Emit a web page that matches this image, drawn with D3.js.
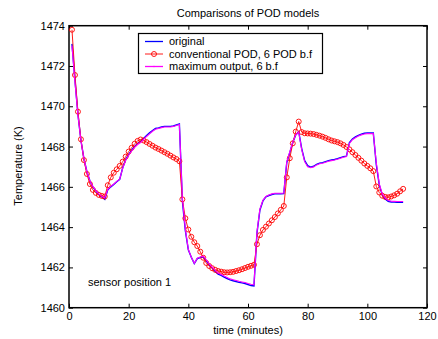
<!DOCTYPE html>
<html>
<head>
<meta charset="utf-8">
<script src="https://cdn.jsdelivr.net/npm/d3@7"></script>
<style>
  body { margin: 0; background: #fff; }
  text { font-family: "Liberation Sans", Arial, Helvetica, sans-serif; }
</style>
</head>
<body>
<div id="app"></div>
<script>
// time axis: one sample per minute
const minutes = d3.range(1, 113);

const original = [
  1473.1, 1471.3, 1469.6, 1468.3, 1467.4, 1466.75, 1466.3, 1466.0, 1465.8, 1465.62,
  1465.5, 1465.38, 1465.85, 1466.0, 1466.12, 1466.25, 1466.37, 1466.95, 1467.35, 1467.6,
  1467.82, 1468.0, 1468.15, 1468.25, 1468.4, 1468.55, 1468.68, 1468.8, 1468.9, 1468.93,
  1468.97, 1469.0, 1469.0, 1469.0, 1469.02, 1469.08, 1469.12, 1465.3, 1463.82, 1462.87,
  1462.5, 1462.19, 1462.44, 1462.49, 1462.53, 1462.34, 1462.13, 1461.97, 1461.8, 1461.67,
  1461.6, 1461.52, 1461.45, 1461.38, 1461.34, 1461.3, 1461.26, 1461.23, 1461.2, 1461.15,
  1461.1, 1461.08, 1463.7, 1464.85, 1465.3, 1465.5, 1465.57, 1465.62, 1465.65, 1465.65,
  1465.65, 1465.66, 1467.2, 1467.7, 1468.2, 1468.58, 1468.74, 1467.9, 1467.3, 1467.05,
  1466.98, 1467.02, 1467.12, 1467.18, 1467.2, 1467.25, 1467.3, 1467.33, 1467.36, 1467.4,
  1467.45, 1467.5, 1467.52, 1468.2, 1468.38, 1468.48, 1468.56, 1468.62, 1468.66, 1468.68,
  1468.68, 1468.68, 1467.1, 1466.1, 1465.6, 1465.4, 1465.28, 1465.25, 1465.24, 1465.23,
  1465.23, 1465.23
];

const maxOutput = [
  1473.0, 1471.2, 1469.55, 1468.3, 1467.4, 1466.75, 1466.3, 1466.02, 1465.82, 1465.65,
  1465.53, 1465.45, 1465.88, 1466.02, 1466.14, 1466.27, 1466.38, 1466.93, 1467.32, 1467.57,
  1467.78, 1467.96, 1468.1, 1468.2, 1468.35, 1468.5, 1468.63, 1468.76, 1468.86, 1468.9,
  1468.94, 1468.97, 1468.97, 1468.97, 1469.0, 1469.05, 1469.1, 1465.45, 1463.9, 1462.9,
  1462.5, 1462.2, 1462.46, 1462.52, 1462.56, 1462.38, 1462.17, 1462.01, 1461.85, 1461.72,
  1461.65, 1461.57, 1461.5, 1461.43, 1461.39, 1461.35, 1461.31, 1461.28, 1461.25, 1461.2,
  1461.16, 1461.13, 1463.75, 1464.9, 1465.33, 1465.52, 1465.6, 1465.65, 1465.68, 1465.68,
  1465.68, 1465.69, 1467.25, 1467.74, 1468.22, 1468.58, 1468.72, 1467.85, 1467.25, 1467.0,
  1466.95, 1466.99, 1467.09, 1467.15, 1467.17, 1467.22, 1467.27, 1467.3, 1467.33, 1467.37,
  1467.42, 1467.47, 1467.5, 1468.15, 1468.34, 1468.44, 1468.52, 1468.58, 1468.62, 1468.64,
  1468.64, 1468.64, 1467.2, 1466.15, 1465.65, 1465.45, 1465.32, 1465.29, 1465.28, 1465.27,
  1465.27, 1465.27
];

const conventional = [
  1473.8, 1471.55, 1469.73, 1468.36, 1467.33, 1466.64, 1466.14, 1465.85, 1465.7, 1465.6,
  1465.55, 1465.52, 1466.08, 1466.47, 1466.7, 1466.87, 1467.04, 1467.25, 1467.5, 1467.75,
  1467.94, 1468.14, 1468.28, 1468.35, 1468.3, 1468.22, 1468.13, 1468.04, 1467.95, 1467.88,
  1467.8, 1467.72, 1467.64, 1467.55, 1467.46, 1467.38, 1467.27, 1465.38, 1464.44, 1463.88,
  1463.52, 1463.25, 1463.06, 1462.78, 1462.48, 1462.22, 1462.07, 1461.96, 1461.88, 1461.82,
  1461.79, 1461.76, 1461.75, 1461.76, 1461.78, 1461.82, 1461.86, 1461.91, 1461.97, 1462.03,
  1462.08, 1462.13, 1463.15, 1463.6, 1463.86, 1464.02, 1464.18, 1464.34, 1464.5, 1464.68,
  1464.86, 1465.05, 1466.47, 1467.42, 1468.16, 1468.74, 1469.24, 1468.72, 1468.66, 1468.65,
  1468.64, 1468.62, 1468.58, 1468.54, 1468.49, 1468.43, 1468.36, 1468.3, 1468.26, 1468.22,
  1468.16, 1468.08, 1467.98, 1467.86, 1467.72, 1467.58, 1467.44, 1467.3, 1467.16, 1467.04,
  1466.92, 1466.78, 1466.02, 1465.72, 1465.56, 1465.5, 1465.48, 1465.52, 1465.58, 1465.66,
  1465.78, 1465.9
];

const xTicks = [0, 20, 40, 60, 80, 100, 120];
const yTicks = [1460, 1462, 1464, 1466, 1468, 1470, 1472, 1474];
const legendLabels = ["original", "conventional POD, 6 POD b.f", "maximum output, 6 b.f"];

const width = 438, height = 339;
const margin = { left: 69, right: 11, top: 25.7, bottom: 31.3 };

const svg = d3.select("#app").append("svg")
  .attr("width", width)
  .attr("height", height);

const x = d3.scaleLinear().domain([0, 120]).range([margin.left, width - margin.right]);
const y = d3.scaleLinear().domain([1460, 1474]).range([height - margin.bottom, margin.top]);

// axes, MATLAB style: ticks pointing inward on all four sides
const fontSize = "11px";
const fmt = d3.format("d");

const gx = svg.append("g")
  .attr("transform", `translate(0,${y(1460)})`)
  .call(d3.axisBottom(x).tickValues(xTicks).tickFormat(fmt).tickSizeInner(-4).tickSizeOuter(0).tickPadding(5));
const gxTop = svg.append("g")
  .attr("transform", `translate(0,${y(1474)})`)
  .call(d3.axisTop(x).tickValues(xTicks).tickSizeInner(-4).tickSizeOuter(0).tickFormat(""));
const gy = svg.append("g")
  .attr("transform", `translate(${x(0)},0)`)
  .call(d3.axisLeft(y).tickValues(yTicks).tickFormat(fmt).tickSizeInner(-4).tickSizeOuter(0).tickPadding(4));
const gyRight = svg.append("g")
  .attr("transform", `translate(${x(120)},0)`)
  .call(d3.axisRight(y).tickValues(yTicks).tickSizeInner(-4).tickSizeOuter(0).tickFormat(""));

[gx, gxTop, gy, gyRight].forEach(g => {
  g.select(".domain").remove();
  g.selectAll(".tick line").attr("stroke", "#000");
  g.selectAll("text").attr("font-size", fontSize).attr("fill", "#000")
    .style("font-family", "'Liberation Sans', Arial, sans-serif");
});

// box around the plot
svg.append("rect")
  .attr("x", x(0)).attr("y", y(1474))
  .attr("width", x(120) - x(0)).attr("height", y(1460) - y(1474))
  .attr("fill", "none").attr("stroke", "#000").attr("stroke-width", 1.5);

const line = d3.line()
  .x((d, i) => x(minutes[i]))
  .y(d => y(d));

svg.append("path").datum(original)
  .attr("d", line).attr("fill", "none")
  .attr("stroke", "#0000ff").attr("stroke-width", 1.4);

svg.append("path").datum(conventional)
  .attr("d", line).attr("fill", "none")
  .attr("stroke", "#ff0000").attr("stroke-width", 0.9);

svg.append("g").selectAll("circle")
  .data(conventional)
  .join("circle")
  .attr("cx", (d, i) => x(minutes[i]))
  .attr("cy", d => y(d))
  .attr("r", 2.5)
  .attr("fill", "none")
  .attr("stroke", "#ff0000")
  .attr("stroke-width", 0.9);

svg.append("path").datum(maxOutput)
  .attr("d", line).attr("fill", "none")
  .attr("stroke", "#ff00ff").attr("stroke-width", 1.1);

// legend
const legend = svg.append("g");
legend.append("rect")
  .attr("x", 138.5).attr("y", 33.5)
  .attr("width", 184).attr("height", 40)
  .attr("fill", "#fff").attr("stroke", "#000").attr("stroke-width", 1.2);

const rowY = [41.5, 54, 66.5];
const rowColor = ["#0000ff", "#ff0000", "#ff00ff"];
legendLabels.forEach((label, i) => {
  legend.append("line")
    .attr("x1", 145).attr("x2", 163)
    .attr("y1", rowY[i]).attr("y2", rowY[i])
    .attr("stroke", rowColor[i]).attr("stroke-width", i === 1 ? 0.9 : 1.3);
  legend.append("text")
    .attr("x", 169).attr("y", rowY[i])
    .attr("dy", "0.36em")
    .attr("font-size", fontSize)
    .text(label);
});
legend.append("circle")
  .attr("cx", 154).attr("cy", rowY[1]).attr("r", 2.5)
  .attr("fill", "none").attr("stroke", "#ff0000").attr("stroke-width", 0.9);
legend.append("circle")
  .attr("cx", 154).attr("cy", rowY[2]).attr("r", 0.8)
  .attr("fill", "#ff00ff");

// titles
svg.append("text")
  .attr("x", 248).attr("y", 17)
  .attr("text-anchor", "middle")
  .attr("font-size", fontSize)
  .text("Comparisons of POD models");

svg.append("text")
  .attr("x", 248).attr("y", 334)
  .attr("text-anchor", "middle")
  .attr("font-size", fontSize)
  .text("time (minutes)");

svg.append("text")
  .attr("transform", "translate(22,166) rotate(-90)")
  .attr("text-anchor", "middle")
  .attr("font-size", fontSize)
  .text("Temperature (K)");

svg.append("text")
  .attr("x", 88).attr("y", 285.5)
  .attr("font-size", fontSize)
  .text("sensor position 1");
</script>
</body>
</html>
